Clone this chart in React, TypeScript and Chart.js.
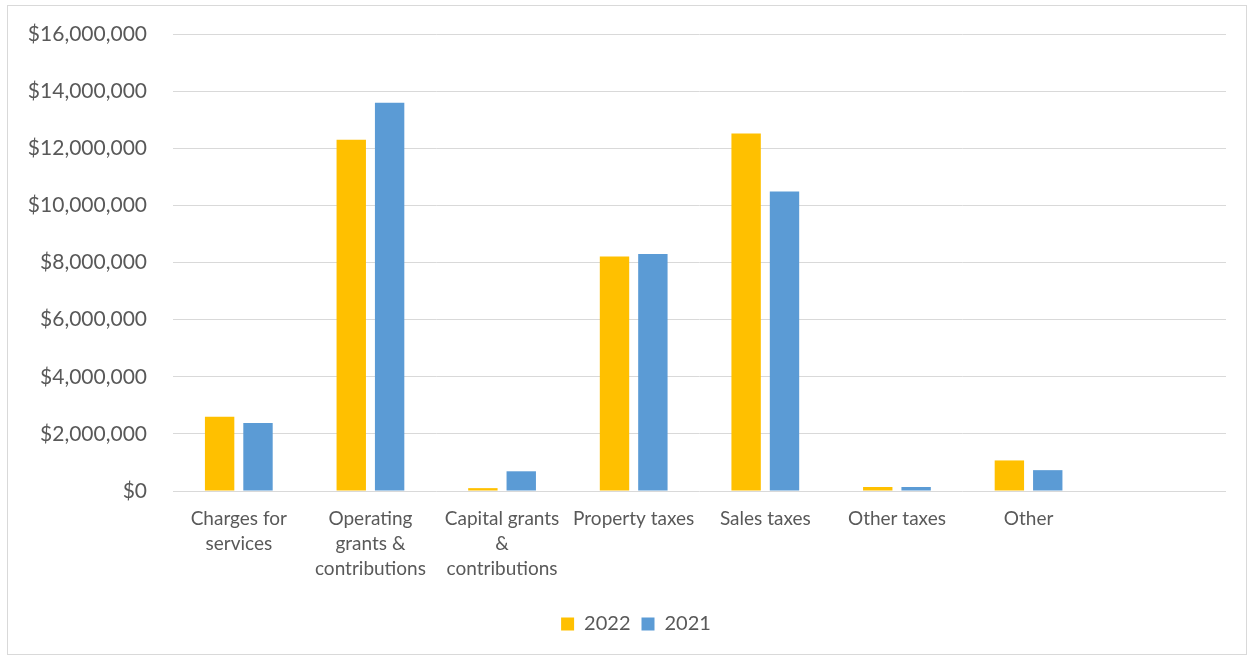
import React, { useEffect, useRef } from "react";
import { Chart, registerables } from "chart.js";

Chart.register(...registerables);

const categories: (string | string[])[] = [
  ["Charges for", "services"],
  ["Operating", "grants &", "contributions"],
  ["Capital grants", "&", "contributions"],
  "Property taxes",
  "Sales taxes",
  "Other taxes",
  "Other",
  "",
];
const values2022: (number | null)[] = [2600000, 12300000, 100000, 8210000, 12520000, 140000, 1070000, null];
const values2021: (number | null)[] = [2380000, 13590000, 690000, 8300000, 10490000, 140000, 730000, null];
const seriesLabels = ["2022", "2021"];
const seriesColors = ["#FFC000", "#5B9BD5"];

const FONT = "Lato, 'Open Sans', sans-serif";

const legendShift = {
  id: "legendShift",
  afterLayout(chart: any) {
    const l = chart.legend;
    if (l) {
      l.left += 19;
      l.right += 19;
    }
  },
};

export default function App() {
  const ref = useRef<HTMLCanvasElement | null>(null);
  useEffect(() => {
    if (!ref.current) return;
    const chart = new Chart(ref.current, {
      type: "bar",
      data: {
        labels: categories,
        datasets: [
          { label: seriesLabels[0], data: values2022, backgroundColor: seriesColors[0], categoryPercentage: 0.583, barPercentage: 0.766 },
          { label: seriesLabels[1], data: values2021, backgroundColor: seriesColors[1], categoryPercentage: 0.583, barPercentage: 0.766 },
        ],
      },
      plugins: [legendShift],
      options: {
        animation: false,
        responsive: false,
        maintainAspectRatio: false,
        layout: { padding: { top: 28, right: 20, bottom: 10, left: 0 } },
        plugins: {
          tooltip: { enabled: false },
          legend: {
            position: "bottom",
            labels: {
              boxWidth: 13,
              boxHeight: 13,
              padding: 11,
              color: "#595959",
              font: { family: FONT, size: 20 },
            },
          },
        },
        scales: {
          x: {
            grid: { display: false },
            border: { display: false },
            ticks: {
              color: "#595959",
              font: { family: FONT, size: 19, lineHeight: 1.3 },
              maxRotation: 0,
              minRotation: 0,
              autoSkip: false,
              padding: 8,
            },
            afterFit: (scale: any) => {
              scale.height = 112;
            },
          },
          y: {
            min: 0,
            max: 16000000,
            grid: {
              color: "#D9D9D9",
              lineWidth: 1,
              drawTicks: true,
              tickLength: 21,
              tickColor: "rgba(0,0,0,0)",
            },
            border: { display: false },
            ticks: {
              stepSize: 2000000,
              color: "#595959",
              font: { family: FONT, size: 21 },
              padding: 5,
              callback: (v: any) => "$" + Number(v).toLocaleString("en-US"),
            },
            afterFit: (scale: any) => {
              scale.width = 165;
            },
          },
        },
      },
    });
    return () => chart.destroy();
  }, []);
  return (
    <div
      style={{
        position: "absolute",
        left: 7,
        top: 5,
        width: 1240,
        height: 650,
        border: "1px solid #D9D9D9",
        background: "#fff",
        boxSizing: "border-box",
      }}
    >
      <canvas ref={ref} width={1238} height={648} style={{ display: "block" }} />
    </div>
  );
}
